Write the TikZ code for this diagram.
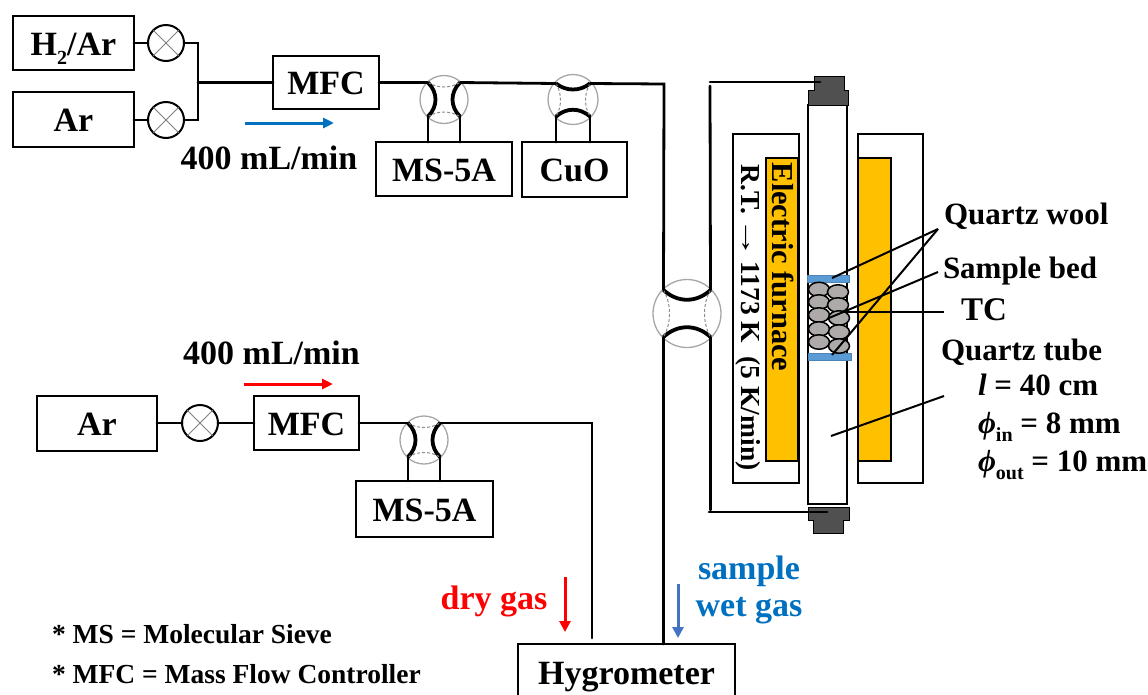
\documentclass[tikz,border=0pt]{standalone}
\usepackage{fontspec}
\setmainfont{Liberation Serif}
\usetikzlibrary{positioning}
\usetikzlibrary{calc}
\usetikzlibrary{arrows.meta}
\usetikzlibrary{shapes.geometric}
\definecolor{furnace}{HTML}{FFC000}
\definecolor{wool}{HTML}{5B9BD5}
\definecolor{bedgray}{HTML}{AEAAAA}
\definecolor{capgray}{HTML}{505050}
\definecolor{flowblue}{HTML}{0070C0}
\definecolor{downblue}{HTML}{4472C4}
\newcommand{\subtxt}[1]{\raisebox{-0.28em}{\fontsize{20}{20}\selectfont #1}}
\tikzset{
  boxnode/.style={draw, line width=2.5pt, inner sep=0pt, outer sep=0pt, text height=24pt, text depth=0pt, font=\fontsize{34}{34}\selectfont\bfseries},
  labelnode/.style={inner sep=0pt, outer sep=0pt, font=\fontsize{31}{31}\selectfont\bfseries},
  flownode/.style={inner sep=0pt, outer sep=0pt, font=\fontsize{34}{34}\selectfont\bfseries},
  gasnode/.style={inner sep=0pt, outer sep=0pt, font=\fontsize{34}{34}\selectfont\bfseries},
  notenode/.style={inner sep=0pt, outer sep=0pt, anchor=west, font=\fontsize{27.5}{27.5}\selectfont\bfseries},
  stopvalve/.style={circle, draw, line width=2pt, minimum size=36pt, inner sep=0pt, outer sep=0pt},
  crossline/.style={draw=gray, line width=1pt},
  swvalve/.style={circle, draw=black!35, line width=1.3pt, inner sep=0pt, outer sep=0pt},
  inarc/.style={draw=black!45, line width=1pt, densely dashed},
  pipe/.style={line width=2.8pt, line cap=round, line join=miter},
  thickarc/.style={line width=3.8pt},
  leader/.style={line width=2pt},
  flowarrow/.style={line width=3pt, -{Triangle[length=11pt,width=10pt]}},
  grain/.style={ellipse, draw, line width=1.5pt, fill=bedgray, minimum width=21pt, minimum height=14.5pt, inner sep=0pt},
  plug/.style={fill=capgray, draw=black, line width=1pt},
  woolbar/.style={fill=wool, draw=wool!85!black, line width=1pt},
  heater/.style={fill=furnace, draw, line width=2.5pt}
}
\begin{document}
\begin{tikzpicture}[x=1pt, y=-1pt]

\pgfmathsetmacro{\OTX}{16.0}
\pgfmathsetmacro{\OTY}{17.0}
\pgfmathsetmacro{\BIG}{23.5}

\clip (0, 0) rectangle (1148, 694);

\node [boxnode, minimum width=121pt, minimum height=54pt] (h2ar) at (73.5, 43) {H\subtxt{2}/Ar};
\node [boxnode, minimum width=121pt, minimum height=55pt] (ar1) at (73.5, 119.5) {Ar};
\node [stopvalve] (sv1) at (166, 43) {};
\node [stopvalve] (sv2) at (166, 120) {};
\draw [crossline] (sv1.north west) -- (sv1.south east);
\draw [crossline] (sv1.north east) -- (sv1.south west);
\draw [crossline] (sv2.north west) -- (sv2.south east);
\draw [crossline] (sv2.north east) -- (sv2.south west);

\node [boxnode, minimum width=106pt, minimum height=53pt] (mfc1) at (326, 82.5) {MFC};
\node [boxnode, minimum width=136pt, minimum height=54pt] (ms1) at (444, 169) {MS-5A};
\node [boxnode, minimum width=105pt, minimum height=55pt] (cuo) at (574.5, 169.5) {CuO};

\coordinate (joint1) at (198, 43);
\coordinate (joint2) at (198, 120);
\coordinate (joint3) at (198, 82.5);
\draw [pipe] (h2ar.east) -- (sv1.west);
\draw [pipe] (ar1.east |- sv2.west) -- (sv2.west);
\draw [pipe] (sv1.east) -- (joint1) -- (joint2) -- (sv2.east);
\draw [pipe] (joint3) -- (mfc1.west);

\node [swvalve, minimum size=48pt] (v1) at (444, 99.5) {};
\node [swvalve, minimum size=50pt] (v2) at (573, 99.5) {};
\node [swvalve, minimum size=48pt] (v3) at (424, 440) {};
\node [swvalve, minimum size=68pt] (v4) at (687, 313.5) {};

\coordinate (v1a) at ($(v1) + (-\OTX, -\OTY)$);
\coordinate (v1b) at ($(v1) + (\OTX, -\OTY)$);
\coordinate (v1c) at ($(v1) + (-\OTX, \OTY)$);
\coordinate (v1d) at ($(v1) + (\OTX, \OTY)$);
\coordinate (v2a) at ($(v2) + (-\OTY, -\OTY+1)$);
\coordinate (v2b) at ($(v2) + (\OTY, -\OTY+1)$);
\coordinate (v2c) at ($(v2) + (-\OTY, \OTY)$);
\coordinate (v2d) at ($(v2) + (\OTY, \OTY)$);
\coordinate (v3a) at ($(v3) + (-\OTX, -\OTY)$);
\coordinate (v3b) at ($(v3) + (\OTX, -\OTY)$);
\coordinate (v3c) at ($(v3) + (-\OTX, \OTY)$);
\coordinate (v3d) at ($(v3) + (\OTX, \OTY)$);
\coordinate (v4a) at ($(v4) + (-\BIG, -\BIG)$);
\coordinate (v4b) at ($(v4) + (\BIG, -\BIG)$);
\coordinate (v4c) at ($(v4) + (-\BIG, \BIG)$);
\coordinate (v4d) at ($(v4) + (\BIG, \BIG)$);

\draw [thickarc] (v1a) .. controls ($(v1a) + (10, 10)$) and ($(v1c) + (10, -10)$) .. (v1c);
\draw [thickarc] (v1b) .. controls ($(v1b) + (-10, 10)$) and ($(v1d) + (-10, -10)$) .. (v1d);
\draw [inarc] (v1a) .. controls ($(v1a) + (10, 6)$) and ($(v1b) + (-10, 6)$) .. (v1b);
\draw [inarc] (v1c) .. controls ($(v1c) + (10, -6)$) and ($(v1d) + (-10, -6)$) .. (v1d);

\draw [thickarc] (v2a) .. controls ($(v2a) + (10, 8)$) and ($(v2b) + (-10, 8)$) .. (v2b);
\draw [thickarc] (v2c) .. controls ($(v2c) + (10, -9)$) and ($(v2d) + (-10, -9)$) .. (v2d);
\draw [inarc] (v2a) .. controls ($(v2a) + (6, 10)$) and ($(v2c) + (6, -10)$) .. (v2c);
\draw [inarc] (v2b) .. controls ($(v2b) + (-6, 10)$) and ($(v2d) + (-6, -10)$) .. (v2d);

\draw [thickarc] (v3a) .. controls ($(v3a) + (10, 10)$) and ($(v3c) + (10, -10)$) .. (v3c);
\draw [thickarc] (v3b) .. controls ($(v3b) + (-10, 10)$) and ($(v3d) + (-10, -10)$) .. (v3d);
\draw [inarc] (v3a) .. controls ($(v3a) + (10, 6)$) and ($(v3b) + (-10, 6)$) .. (v3b);
\draw [inarc] (v3c) .. controls ($(v3c) + (10, -6)$) and ($(v3d) + (-10, -6)$) .. (v3d);

\draw [thickarc] (v4a) .. controls ($(v4a) + (14, 13)$) and ($(v4b) + (-14, 13)$) .. (v4b);
\draw [thickarc] (v4c) .. controls ($(v4c) + (14, -13)$) and ($(v4d) + (-14, -13)$) .. (v4d);
\draw [inarc] (v4a) .. controls ($(v4a) + (8, 14)$) and ($(v4c) + (8, -14)$) .. (v4c);
\draw [inarc] (v4b) .. controls ($(v4b) + (-8, 14)$) and ($(v4d) + (-8, -14)$) .. (v4d);

\coordinate (top1) at (664, 84);
\coordinate (top2) at (710, 86);
\coordinate (top3) at (710, 82);
\coordinate (low1) at (710.5, 510);
\coordinate (dry1) at (592, 423);
\coordinate (dry2) at (592, 638);

\draw [pipe] (mfc1.east) -- (v1a);
\draw [pipe] (v1b) -- (v2a);
\draw [pipe] (v2b) -- (top1) -- (v4a);
\draw [pipe] (v1c) -- (v1c |- ms1.north);
\draw [pipe] (v1d) -- (v1d |- ms1.north);
\draw [pipe] (v2c) -- (v2c |- cuo.north);
\draw [pipe] (v2d) -- (v2d |- cuo.north);

\node [boxnode, minimum width=120pt, minimum height=55pt] (ar2) at (97, 423.5) {Ar};
\node [stopvalve] (sv3) at (200, 423) {};
\draw [crossline] (sv3.north west) -- (sv3.south east);
\draw [crossline] (sv3.north east) -- (sv3.south west);
\node [boxnode, minimum width=105pt, minimum height=54pt] (mfc2) at (306.5, 423) {MFC};
\node [boxnode, minimum width=137pt, minimum height=56pt] (ms2) at (424.5, 509) {MS-5A};
\node [boxnode, minimum width=217pt, minimum height=56pt] (hygro) at (626.5, 672) {Hygrometer};

\draw [pipe] (ar2.east |- sv3.west) -- (sv3.west);
\draw [pipe] (sv3.east) -- (mfc2.west);
\draw [pipe] (mfc2.east) -- (v3a);
\draw [pipe] (v3b) -- (dry1) -- (dry2);
\draw [pipe] (v3c) -- (v3c |- ms2.north);
\draw [pipe] (v3d) -- (v3d |- ms2.north);
\draw [pipe] (v4c) -- (v4c |- hygro.north);
\draw [pipe] (v4b) -- (top2);
\draw [pipe] (v4d) -- (low1);

\node [draw, line width=2.5pt, outer sep=0pt, minimum width=66pt, minimum height=349pt] (shellL) at (766, 308.5) {};
\node [draw, line width=2.5pt, outer sep=0pt, minimum width=65pt, minimum height=349pt] (shellR) at (890.5, 308.5) {};
\node [heater, outer sep=0pt, minimum width=32pt, minimum height=303pt] (heatL) at (782, 309.5) {};
\node [heater, outer sep=0pt, minimum width=33pt, minimum height=303pt] (heatR) at (874.5, 309.5) {};
\node [draw, fill=white, line width=2.5pt, outer sep=0pt, minimum width=39pt, minimum height=399pt] (tube) at (827.5, 304.5) {};

\node [woolbar, inner sep=0pt, minimum width=42pt, minimum height=7pt] (woolA) at (828, 278.5) {};
\node [woolbar, inner sep=0pt, minimum width=43pt, minimum height=7pt] (woolB) at (829.5, 356.5) {};

\node [grain] (g1) at (819, 289.5) {};
\node [grain] (g2) at (819, 302) {};
\node [grain] (g3) at (819, 315) {};
\node [grain] (g4) at (819, 329) {};
\node [grain] (g5) at (819, 342) {};
\node [grain] (g6) at (838, 292) {};
\node [grain] (g7) at (838, 305) {};
\node [grain] (g8) at (839, 318) {};
\node [grain] (g9) at (839, 332) {};
\node [grain] (g10) at (839, 346) {};

\draw [plug] (814, 76) -- (844, 76) -- (844, 90) -- (848, 90) -- (848, 105) -- (808, 105) -- (808, 90) -- (814, 90) -- cycle;
\draw [plug] (808, 507) -- (849, 507) -- (849, 520) -- (843, 520) -- (843, 533) -- (813, 533) -- (813, 520) -- (808, 520) -- cycle;

\coordinate (plugA) at (820, 82);
\coordinate (plugB) at (827, 512);
\coordinate (low2) at (709, 512);
\draw [pipe] (top3) -- (plugA);
\draw [pipe] (low2) -- (plugB);

\node [labelnode, rotate=-90, font=\fontsize{30.4}{30.4}\selectfont\bfseries] (efurn) at (783, 267) {Electric furnace};
\node [labelnode, rotate=-90, font=\fontsize{27.5}{27.5}\selectfont\bfseries] (ramp) at (748, 317.5) {R.T. \hspace{-4pt}\scalebox{1.5}[1]{→}\hspace{-4pt} 1173 K \ (5 K/min)};

\node [labelnode, anchor=west] (qwool) at (944, 216) {Quartz wool};
\node [labelnode, anchor=west] (sbed) at (943, 271) {Sample bed};
\node [labelnode, font=\fontsize{33}{33}\selectfont\bfseries] (tc) at (984, 310) {TC};
\node [labelnode, anchor=west] (qtube) at (941, 352) {Quartz tube};
\node [labelnode, anchor=west] (qlen) at (978, 385) {\textit{l} = 40 cm};
\node [labelnode, anchor=west] (qin) at (978, 427) {\textit{ϕ}\subtxt{in} = 8 mm};
\node [labelnode, anchor=west] (qout) at (978, 465) {\textit{ϕ}\subtxt{out} = 10 mm};

\coordinate (woolend) at (938, 229);
\coordinate (bedend) at (938, 272);
\coordinate (tcA) at (846, 312);
\coordinate (tcB) at (944, 312);
\coordinate (tubeA) at (831, 436);
\coordinate (tubeB) at (944, 396);
\coordinate (woolA1) at (832, 278);
\coordinate (woolB1) at (832, 355);
\coordinate (bedA) at (829, 318);
\draw [leader] (woolA1) -- (woolend);
\draw [leader] (woolB1) -- (woolend);
\draw [leader] (bedA) -- (bedend);
\draw [leader] (tcA) -- (tcB);
\draw [leader] (tubeA) -- (tubeB);

\node [flownode] (rate1) at (269, 158) {400 mL/min};
\node [flownode] (rate2) at (271.5, 353) {400 mL/min};
\coordinate (ba) at (245, 123);
\coordinate (bb) at (334, 123);
\coordinate (ra) at (244, 384);
\coordinate (rb) at (333, 384);
\draw [flowarrow, draw=flowblue, -{Triangle[length=11pt,width=10pt,fill=flowblue]}] (ba) -- (bb);
\draw [flowarrow, draw=red, -{Triangle[length=11pt,width=10pt,fill=red]}] (ra) -- (rb);

\node [gasnode, text=red] (dry) at (494, 601) {dry gas};
\node [gasnode, text=flowblue] (samp) at (749, 571) {sample};
\node [gasnode, text=flowblue] (wet) at (749, 611) {wet gas};
\coordinate (da) at (565, 577);
\coordinate (db) at (565, 632);
\coordinate (wa) at (678, 584);
\coordinate (wb) at (678, 638);
\draw [flowarrow, draw=red, -{Triangle[length=11pt,width=11pt,fill=red]}] (da) -- (db);
\draw [flowarrow, draw=downblue, -{Triangle[length=11pt,width=11pt,fill=downblue]}] (wa) -- (wb);

\node [notenode] (note1) at (52, 634) {* MS = Molecular Sieve};
\node [notenode] (note2) at (52, 674) {* MFC = Mass Flow Controller};

\end{tikzpicture}
\end{document}
